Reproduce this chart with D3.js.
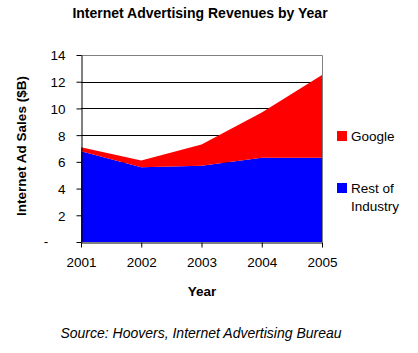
<!DOCTYPE html>
<html>
<head>
<meta charset="utf-8">
<script src="https://cdn.jsdelivr.net/npm/d3@7"></script>
<style>
  body { margin: 0; background: #fff; }
  svg { font-family: "Liberation Sans", Arial, sans-serif; }
</style>
</head>
<body>
<svg id="chart" width="418" height="353"></svg>
<script>
const years = [2001, 2002, 2003, 2004, 2005];
const restOfIndustry = [6.8, 5.6, 5.7, 6.3, 6.3];
const google = [0.3, 0.5, 1.6, 3.4, 6.2];
const yTicks = [0, 2, 4, 6, 8, 10, 12, 14];
const seriesNames = ['Rest of Industry', 'Google'];
const seriesColors = ['#0000ff', '#ff0000'];

const svg = d3.select('#chart');
const margin = { left: 81, right: 96, top: 55, bottom: 111 };
const w = 418 - margin.left - margin.right;
const h = 353 - margin.top - margin.bottom;

const rows = years.map((y, i) => ({ year: y, rest: restOfIndustry[i], google: google[i] }));
const stacked = d3.stack().keys(['rest', 'google'])(rows);

const x = d3.scaleLinear().domain([2001, 2005]).range([0, w]);
const y = d3.scaleLinear().domain([0, 14]).range([h, 0]);

const g = svg.append('g').attr('transform', `translate(${margin.left},${margin.top})`);

// grid + plot border
g.selectAll('line.grid').data(yTicks.filter(t => t > 0 && t < 14)).join('line')
  .classed('grid', true)
  .attr('x1', 0).attr('x2', w)
  .attr('y1', d => Math.round(y(d)) + 0.5).attr('y2', d => Math.round(y(d)) + 0.5)
  .attr('stroke', '#000').attr('stroke-width', 1);

g.append('path')
  .attr('d', `M0,${Math.round(y(14)) + 0.5}H${w + 0.5}V${h}`)
  .attr('fill', 'none').attr('stroke', '#808080');

const area = d3.area()
  .x(d => x(d.data.year))
  .y0(d => y(d[0]))
  .y1(d => y(d[1]));

g.selectAll('path.area').data(stacked).join('path')
  .classed('area', true)
  .attr('d', area)
  .attr('fill', (d, i) => seriesColors[i]);

// axes
const xAxis = g.append('g').attr('transform', `translate(0,${h + 0.5})`)
  .call(d3.axisBottom(x).tickValues(years).tickFormat(d3.format('d')).tickSize(5).tickSizeOuter(0));
const yAxis = g.append('g').attr('transform', 'translate(0.5,0)')
  .call(d3.axisLeft(y).tickValues(yTicks).tickFormat(d => d === 0 ? '' : d).tickSize(5).tickSizeOuter(0));

[xAxis, yAxis].forEach(a => {
  a.select('.domain').attr('stroke', '#000');
  a.selectAll('.tick line').attr('stroke', '#000');
  a.selectAll('text').attr('fill', '#000').style('font-size', '13.5px')
    .style('font-family', '"Liberation Sans", Arial, sans-serif');
});
xAxis.selectAll('text').attr('dy', null).attr('y', 24.5);
yAxis.selectAll('text').attr('x', -16).attr('dy', '0.36em');

// zero label shown as a dash
g.append('text').attr('x', -35).attr('y', y(0)).attr('dy', '0.32em')
  .attr('text-anchor', 'middle').style('font-size', '13.5px').text('-');

// titles
svg.append('text').attr('x', 200).attr('y', 18).attr('text-anchor', 'middle')
  .style('font-size', '14px').style('font-weight', 'bold')
  .text('Internet Advertising Revenues by Year');

svg.append('text').attr('transform', 'translate(26,146) rotate(-90)')
  .attr('text-anchor', 'middle').style('font-size', '13.5px').style('font-weight', 'bold')
  .text('Internet Ad Sales ($B)');

svg.append('text').attr('x', 202).attr('y', 296).attr('text-anchor', 'middle')
  .style('font-size', '13.5px').style('font-weight', 'bold').text('Year');

svg.append('text').attr('x', 201).attr('y', 338).attr('text-anchor', 'middle')
  .style('font-size', '14px').style('font-style', 'italic')
  .text('Source: Hoovers, Internet Advertising Bureau');

// legend
const legend = [
  { name: 'Google', color: seriesColors[1], lines: ['Google'], top: 131 },
  { name: 'Rest of Industry', color: seriesColors[0], lines: ['Rest of', 'Industry'], top: 183 }
];
const lg = svg.selectAll('g.legend').data(legend).join('g').classed('legend', true)
  .attr('transform', d => `translate(337,${d.top})`);
lg.append('rect').attr('width', 10).attr('height', 10).attr('fill', d => d.color);
lg.selectAll('text').data(d => d.lines).join('text')
  .attr('x', 14).attr('y', (d, i) => 10 + i * 18)
  .style('font-size', '13.5px').text(d => d);
</script>
</body>
</html>
